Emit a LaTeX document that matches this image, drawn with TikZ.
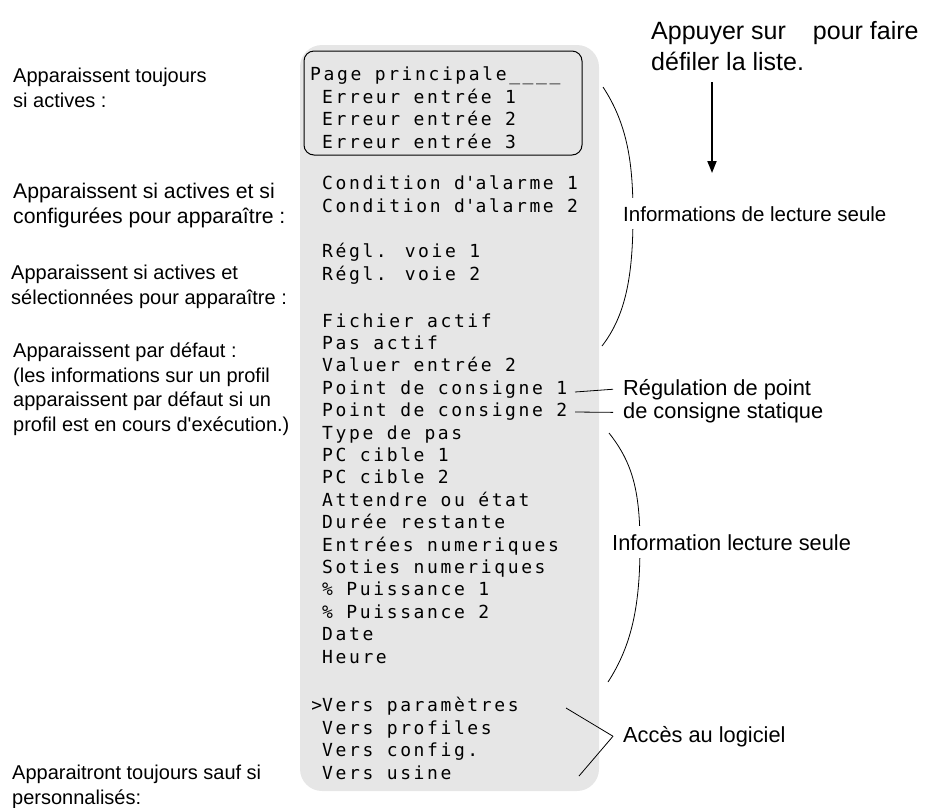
\documentclass[tikz,border=0pt]{standalone}
\usepackage{fontspec}
\setmainfont{Liberation Sans}
\newfontfamily\lcdfont[LetterSpace=14.5]{DejaVu Sans Mono}
\usepackage{tikz}
\usetikzlibrary{arrows.meta,positioning}
\definecolor{panelgray}{RGB}{230,230,230}

\begin{document}
\begin{tikzpicture}[
  x=1pt,y=-1pt,
  note/.style={anchor=base west,align=left,inner sep=0pt,
    font=\fontsize{20}{24.5}\selectfont},
  lcd/.style={anchor=base west,align=left,inner sep=0pt,
    font=\fontsize{18}{22.4}\lcdfont},
  tag/.style={anchor=base west,fill=white,inner xsep=10pt,inner ysep=1pt,
    font=\fontsize{21.8}{24}\selectfont},
  brace/.style={line width=0.8pt}
]
\useasboundingbox (0,0) rectangle (932,807);

% display panel (base = last line)
\fill[panelgray,rounded corners=22pt] (300,45) rectangle (599,791);
\draw[rounded corners=10pt,line width=1pt] (304,51) rectangle (582,155);

\node[lcd] (pagep) at (310,80) {Page principale\_\_\_\_};
\node[lcd] (erreurs) at (322,148) {Erreur entrée 1\\Erreur entrée 2\\Erreur entrée 3};
\node[lcd] (alarmes) at (322,212) {Condition d\textquotesingle alarme 1\\Condition d\textquotesingle alarme 2};
\node[lcd] (voies) at (322,280) {Régl. voie 1\\Régl. voie 2};
\node[lcd] (defaut) at (322,663) {Fichier actif\\Pas actif\\Valuer entrée 2\\
  Point de consigne 1\\Point de consigne 2\\Type de pas\\PC cible 1\\PC cible 2\\
  Attendre ou état\\Durée restante\\Entrées numeriques\\Soties numeriques\\
  \% Puissance 1\\\% Puissance 2\\Date\\Heure};
\node[lcd] (acces) at (322,779) {\llap{>}Vers paramètres\\Vers profiles\\Vers config.\\Vers usine};

% left notes
\node[note] (toujours) at (13,107) {Apparaissent toujours\\si actives :};
\node[note,font=\fontsize{21.2}{24.5}\selectfont] (config) at (13,223)
  {Apparaissent si actives et si\\configurées pour apparaître :};
\node[note] (select) at (11,304) {Apparaissent si actives et\\sélectionnées pour apparaître :};
\node[note] (pardefaut) at (13,431) {Apparaissent par défaut :\\(les informations sur un profil\\
  apparaissent par défaut si un\\profil est en cours d\textquotesingle exécution.)};
\node[note] (perso) at (12,804) {Apparaitront toujours sauf si\\personnalisés:};

% scrolling hint
\node[note,font=\fontsize{25}{31}\selectfont] (scroll) at (651,70)
  {Appuyer sur\hspace{27pt}pour faire\\défiler la liste.};
\coordinate (scrtop) at (712,82);
\coordinate (scrbot) at (712,173);
\draw[-{Triangle[length=12pt,width=9pt]},line width=1.8pt] (scrtop) -- (scrbot);

% right braces and labels
\coordinate (b1top) at (603,87);
\coordinate (b1bot) at (602,346);
\coordinate (b2top) at (609,433);
\coordinate (b2bot) at (608,682);
\draw[brace] (b1top) .. controls (628,125) and (633,165) .. (633,215)
  .. controls (633,275) and (626,315) .. (b1bot);
\draw[brace] (b2top) .. controls (632,462) and (640,490) .. (640,545)
  .. controls (640,605) and (632,645) .. (b2bot);
\node[tag,inner ysep=8pt,font=\fontsize{20.5}{24}\selectfont] (lect1) at (613,221)
  {Informations de lecture seule};
\node[tag,inner ysep=8pt] (lect2) at (602,550) {Information lecture seule};

\node[tag] (reg1) at (613,395) {Régulation de point};
\node[tag] (reg2) at (613,418) {de consigne statique};
\coordinate (pc1) at (575,392);
\coordinate (pc2) at (575,412);
\draw[brace] (pc1) -- (reg1.west);
\draw[brace] (pc2) -- (reg2.west);

\node[tag] (logiciel) at (613,742) {Accès au logiciel};
\coordinate (vpar) at (566,708);
\coordinate (vusi) at (579,776);
\draw[brace] (vpar) -- (logiciel.west);
\draw[brace] (vusi) -- (logiciel.west);
\end{tikzpicture}
\end{document}
